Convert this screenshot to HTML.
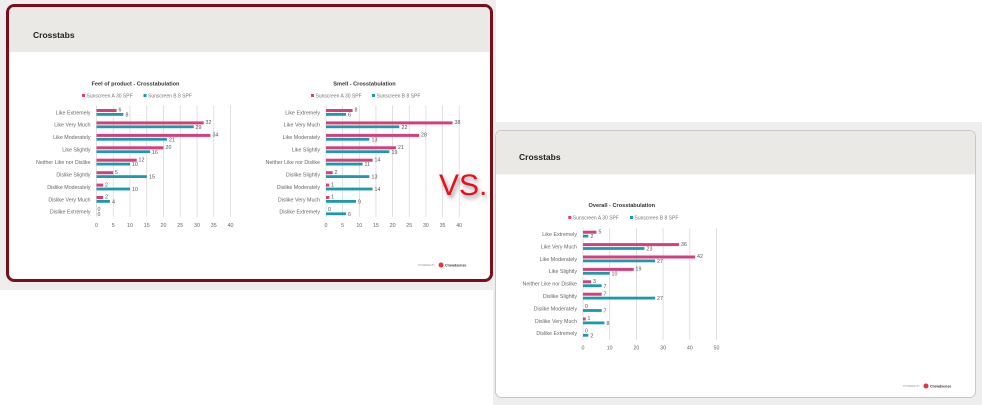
<!DOCTYPE html>
<html><head><meta charset="utf-8"><style>
html,body{margin:0;padding:0;background:#fff;width:982px;height:405px;overflow:hidden}
svg{display:block;font-family:"Liberation Sans",sans-serif}
.c{font-size:5.3px;fill:#666;text-anchor:end}
.v{font-size:5.3px;fill:#555}
.t{font-size:5.3px;fill:#666;text-anchor:middle}
.ti{font-size:5.6px;font-weight:bold;fill:#333;text-anchor:middle}
.lg{font-size:5px;fill:#777}
.g{stroke:#d9d9d9;stroke-width:0.8}
.p{fill:#d63f7e}.b{fill:#1a9bab}
</style></head><body>
<svg width="982" height="405" viewBox="0 0 982 405">
<rect x="0" y="0" width="496" height="290" fill="#eeeeee"/>
<rect x="493" y="122" width="489" height="283" fill="#eeeeee"/>
<!-- left slide -->
<rect x="7.5" y="5.5" width="484" height="275" rx="7" fill="#fff" stroke="#7a0f19" stroke-width="3"/>
<path d="M9 52 V12 a5 5 0 0 1 5 -5 H485 a5 5 0 0 1 5 5 V52 Z" fill="#ebe9e6"/>
<text x="33" y="38" font-size="8.5" font-weight="bold" fill="#222">Crosstabs</text>
<text x="418" y="266" font-size="2.5" fill="#999">POWERED BY</text>
<circle cx="441" cy="265" r="2.5" fill="#e8323c"/>
<text x="445" y="266.5" font-size="3.6" fill="#333" font-weight="bold">Crowdsense</text>
<!-- right slide -->
<rect x="495.5" y="130.5" width="480" height="267" rx="6" fill="#fff" stroke="#c8c8c8" stroke-width="1"/>
<path d="M496 174.5 V137 a6 6 0 0 1 6 -6 H969 a6 6 0 0 1 6 6 V174.5 Z" fill="#ebe9e6"/>
<text x="519" y="160" font-size="8.5" font-weight="bold" fill="#222">Crosstabs</text>
<text x="903" y="387" font-size="2.5" fill="#999">POWERED BY</text>
<circle cx="926" cy="386" r="2.5" fill="#e8323c"/>
<text x="930" y="387.5" font-size="3.6" fill="#333" font-weight="bold">Crowdsense</text>

<!-- chart 1 -->
<text class="ti" x="135.5" y="85.3">Feel of product - Crosstabulation</text>
<rect class="p" x="82" y="94" width="3" height="3"/><text class="lg" x="86.5" y="97.3">Sunscreen A 30 SPF</text>
<rect class="b" x="143.5" y="94" width="3" height="3"/><text class="lg" x="148" y="97.3">Sunscreen B 8 SPF</text>
<g transform="translate(96.5,112.3)">
<g class="g"><line x1="0" y1="-7" x2="0" y2="104.5"/><line x1="16.75" y1="-7" x2="16.75" y2="104.5"/><line x1="33.5" y1="-7" x2="33.5" y2="104.5"/><line x1="50.25" y1="-7" x2="50.25" y2="104.5"/><line x1="67" y1="-7" x2="67" y2="104.5"/><line x1="83.75" y1="-7" x2="83.75" y2="104.5"/><line x1="100.5" y1="-7" x2="100.5" y2="104.5"/><line x1="117.25" y1="-7" x2="117.25" y2="104.5"/><line x1="134" y1="-7" x2="134" y2="104.5"/></g>
<text class="t" x="0" y="114.5">0</text><text class="t" x="16.75" y="114.5">5</text><text class="t" x="33.5" y="114.5">10</text><text class="t" x="50.25" y="114.5">15</text><text class="t" x="67" y="114.5">20</text><text class="t" x="83.75" y="114.5">25</text><text class="t" x="100.5" y="114.5">30</text><text class="t" x="117.25" y="114.5">35</text><text class="t" x="134" y="114.5">40</text>
<text class="c" x="-6" y="2">Like Extremely</text><text class="c" x="-6" y="14.4">Like Very Much</text><text class="c" x="-6" y="26.9">Like Moderately</text><text class="c" x="-6" y="39.3">Like Slightly</text><text class="c" x="-6" y="51.7">Neither Like nor Dislike</text><text class="c" x="-6" y="64.2">Dislike Slightly</text><text class="c" x="-6" y="76.6">Dislike Moderately</text><text class="c" x="-6" y="89">Dislike Very Much</text><text class="c" x="-6" y="101.4">Dislike Extremely</text>
<rect class="p" x="0" y="-3.3" width="20.1" height="3"/><rect class="b" x="0" y="0.7" width="26.8" height="2.8"/><text class="v" x="22" y="-0.6">6</text><text class="v" x="29" y="4.2">8</text>
<rect class="p" x="0" y="9.1" width="107.2" height="3"/><rect class="b" x="0" y="13.1" width="97.2" height="2.8"/><text class="v" x="109" y="11.8">32</text><text class="v" x="99" y="16.6">29</text>
<rect class="p" x="0" y="21.6" width="113.9" height="3"/><rect class="b" x="0" y="25.6" width="70.4" height="2.8"/><text class="v" x="116" y="24.3">34</text><text class="v" x="72.5" y="29.1">21</text>
<rect class="p" x="0" y="34" width="67" height="3"/><rect class="b" x="0" y="38" width="53.6" height="2.8"/><text class="v" x="69" y="36.7">20</text><text class="v" x="55.5" y="41.5">16</text>
<rect class="p" x="0" y="46.4" width="40.2" height="3"/><rect class="b" x="0" y="50.4" width="33.5" height="2.8"/><text class="v" x="42" y="49.1">12</text><text class="v" x="35.5" y="53.9">10</text>
<rect class="p" x="0" y="58.9" width="16.75" height="3"/><rect class="b" x="0" y="62.9" width="50.3" height="2.8"/><text class="v" x="18.5" y="61.6">5</text><text class="v" x="52.5" y="66.4">15</text>
<rect class="p" x="0" y="71.3" width="6.7" height="3"/><rect class="b" x="0" y="75.3" width="33.5" height="2.8"/><text class="v" x="8.5" y="74">2</text><text class="v" x="35.5" y="78.8">10</text>
<rect class="p" x="0" y="83.7" width="6.7" height="3"/><rect class="b" x="0" y="87.7" width="13.4" height="2.8"/><text class="v" x="8.5" y="86.4">2</text><text class="v" x="15.5" y="91.2">4</text>
<text class="v" x="1" y="98.8">0</text><text class="v" x="1" y="103.6">0</text>
</g>

<!-- chart 2 -->
<text class="ti" x="364.5" y="85.3">Smell - Crosstabulation</text>
<rect class="p" x="311" y="94" width="3" height="3"/><text class="lg" x="315.5" y="97.3">Sunscreen A 30 SPF</text>
<rect class="b" x="372" y="94" width="3" height="3"/><text class="lg" x="376.5" y="97.3">Sunscreen B 8 SPF</text>
<g transform="translate(326,112.3)">
<g class="g"><line x1="0" y1="-7" x2="0" y2="104.5"/><line x1="16.65" y1="-7" x2="16.65" y2="104.5"/><line x1="33.3" y1="-7" x2="33.3" y2="104.5"/><line x1="49.95" y1="-7" x2="49.95" y2="104.5"/><line x1="66.6" y1="-7" x2="66.6" y2="104.5"/><line x1="83.25" y1="-7" x2="83.25" y2="104.5"/><line x1="99.9" y1="-7" x2="99.9" y2="104.5"/><line x1="116.55" y1="-7" x2="116.55" y2="104.5"/><line x1="133.2" y1="-7" x2="133.2" y2="104.5"/></g>
<text class="t" x="0" y="114.5">0</text><text class="t" x="16.65" y="114.5">5</text><text class="t" x="33.3" y="114.5">10</text><text class="t" x="49.95" y="114.5">15</text><text class="t" x="66.6" y="114.5">20</text><text class="t" x="83.25" y="114.5">25</text><text class="t" x="99.9" y="114.5">30</text><text class="t" x="116.55" y="114.5">35</text><text class="t" x="133.2" y="114.5">40</text>
<text class="c" x="-6" y="2">Like Extremely</text><text class="c" x="-6" y="14.4">Like Very Much</text><text class="c" x="-6" y="26.9">Like Moderately</text><text class="c" x="-6" y="39.3">Like Slightly</text><text class="c" x="-6" y="51.7">Neither Like nor Dislike</text><text class="c" x="-6" y="64.2">Dislike Slightly</text><text class="c" x="-6" y="76.6">Dislike Moderately</text><text class="c" x="-6" y="89">Dislike Very Much</text><text class="c" x="-6" y="101.4">Dislike Extremely</text>
<rect class="p" x="0" y="-3.3" width="26.6" height="3"/><rect class="b" x="0" y="0.7" width="20" height="2.8"/><text class="v" x="28.5" y="-0.6">8</text><text class="v" x="22" y="4.2">6</text>
<rect class="p" x="0" y="9.1" width="126.5" height="3"/><rect class="b" x="0" y="13.1" width="73.3" height="2.8"/><text class="v" x="128.5" y="11.8">38</text><text class="v" x="75.5" y="16.6">22</text>
<rect class="p" x="0" y="21.6" width="93.2" height="3"/><rect class="b" x="0" y="25.6" width="43.3" height="2.8"/><text class="v" x="95" y="24.3">28</text><text class="v" x="45.5" y="29.1">13</text>
<rect class="p" x="0" y="34" width="69.9" height="3"/><rect class="b" x="0" y="38" width="63.3" height="2.8"/><text class="v" x="72" y="36.7">21</text><text class="v" x="65.5" y="41.5">19</text>
<rect class="p" x="0" y="46.4" width="46.6" height="3"/><rect class="b" x="0" y="50.4" width="36.6" height="2.8"/><text class="v" x="48.5" y="49.1">14</text><text class="v" x="38.5" y="53.9">11</text>
<rect class="p" x="0" y="58.9" width="6.7" height="3"/><rect class="b" x="0" y="62.9" width="43.3" height="2.8"/><text class="v" x="8.5" y="61.6">2</text><text class="v" x="45.5" y="66.4">13</text>
<rect class="p" x="0" y="71.3" width="3.3" height="3"/><rect class="b" x="0" y="75.3" width="46.6" height="2.8"/><text class="v" x="5" y="74">1</text><text class="v" x="48.5" y="78.8">14</text>
<rect class="p" x="0" y="83.7" width="3.3" height="3"/><rect class="b" x="0" y="87.7" width="30" height="2.8"/><text class="v" x="5" y="86.4">1</text><text class="v" x="32" y="91.2">9</text>
<rect class="b" x="0" y="100.1" width="20" height="2.8"/><text class="v" x="2" y="98.8">0</text><text class="v" x="22" y="103.6">6</text>
</g>
<text x="439" y="195" font-size="30" fill="#e8101a" style="filter:drop-shadow(2px 3px 2px rgba(0,0,0,0.4))">VS.</text>

<!-- chart 3 -->
<text class="ti" x="621.8" y="207">Overall - Crosstabulation</text>
<rect class="p" x="568.3" y="216" width="3" height="3"/><text class="lg" x="572.8" y="219.3">Sunscreen A 30 SPF</text>
<rect class="b" x="630" y="216" width="3" height="3"/><text class="lg" x="634.5" y="219.3">Sunscreen B 8 SPF</text>
<g transform="translate(583,234)">
<g class="g"><line x1="0" y1="-6" x2="0" y2="106"/><line x1="26.7" y1="-6" x2="26.7" y2="106"/><line x1="53.4" y1="-6" x2="53.4" y2="106"/><line x1="80.1" y1="-6" x2="80.1" y2="106"/><line x1="106.8" y1="-6" x2="106.8" y2="106"/><line x1="133.5" y1="-6" x2="133.5" y2="106"/></g>
<text class="t" x="0" y="115.5">0</text><text class="t" x="26.7" y="115.5">10</text><text class="t" x="53.4" y="115.5">20</text><text class="t" x="80.1" y="115.5">30</text><text class="t" x="106.8" y="115.5">40</text><text class="t" x="133.5" y="115.5">50</text>
<text class="c" x="-6" y="2">Like Extremely</text><text class="c" x="-6" y="14.4">Like Very Much</text><text class="c" x="-6" y="26.8">Like Moderately</text><text class="c" x="-6" y="39.2">Like Slightly</text><text class="c" x="-6" y="51.6">Neither Like nor Dislike</text><text class="c" x="-6" y="64">Dislike Slightly</text><text class="c" x="-6" y="76.4">Dislike Moderately</text><text class="c" x="-6" y="88.8">Dislike Very Much</text><text class="c" x="-6" y="101.2">Dislike Extremely</text>
<rect class="p" x="0" y="-3.3" width="13.4" height="3"/><rect class="b" x="0" y="0.7" width="5.3" height="2.8"/><text class="v" x="15.5" y="-0.6">5</text><text class="v" x="7.5" y="4.2">2</text>
<rect class="p" x="0" y="9.1" width="96.1" height="3"/><rect class="b" x="0" y="13.1" width="61.4" height="2.8"/><text class="v" x="98" y="11.8">36</text><text class="v" x="63.5" y="16.6">23</text>
<rect class="p" x="0" y="21.5" width="112.1" height="3"/><rect class="b" x="0" y="25.5" width="72.1" height="2.8"/><text class="v" x="114" y="24.2">42</text><text class="v" x="74" y="29">27</text>
<rect class="p" x="0" y="33.9" width="50.7" height="3"/><rect class="b" x="0" y="37.9" width="26.7" height="2.8"/><text class="v" x="52.5" y="36.6">19</text><text class="v" x="28.5" y="41.4">10</text>
<rect class="p" x="0" y="46.3" width="8" height="3"/><rect class="b" x="0" y="50.3" width="18.7" height="2.8"/><text class="v" x="10" y="49">3</text><text class="v" x="20.5" y="53.8">7</text>
<rect class="p" x="0" y="58.7" width="18.7" height="3"/><rect class="b" x="0" y="62.7" width="72.1" height="2.8"/><text class="v" x="20.5" y="61.4">7</text><text class="v" x="74" y="66.2">27</text>
<rect class="b" x="0" y="75.1" width="18.7" height="2.8"/><text class="v" x="2" y="73.8">0</text><text class="v" x="20.5" y="78.6">7</text>
<rect class="p" x="0" y="83.5" width="2.7" height="3"/><rect class="b" x="0" y="87.5" width="21.4" height="2.8"/><text class="v" x="4.5" y="86.2">1</text><text class="v" x="23.5" y="91">8</text>
<rect class="b" x="0" y="99.9" width="5.3" height="2.8"/><text class="v" x="2" y="98.6">0</text><text class="v" x="7.5" y="103.4">2</text>
</g>
</svg>
</body></html>
